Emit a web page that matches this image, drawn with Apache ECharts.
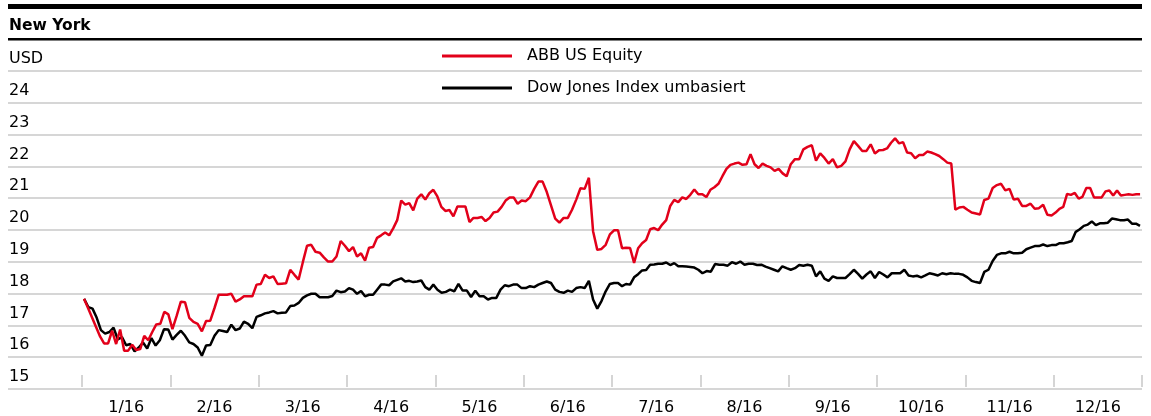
<!DOCTYPE html>
<html>
<head>
<meta charset="utf-8">
<script src="https://cdn.jsdelivr.net/npm/echarts@6.0.0/dist/echarts.min.js"></script>
<style>
  html, body { margin: 0; padding: 0; background: #fff; }
  #chart { width: 1151px; height: 416px; }
</style>
</head>
<body>
<div id="chart"></div>
<script>
// month labels and y range
var monthLabels = ['1/16', '2/16', '3/16', '4/16', '5/16', '6/16', '7/16', '8/16', '9/16', '10/16', '11/16', '12/16'];
var yMin = 15, yMax = 25;

// ABB US Equity, daily closes grouped by month (USD)
var abbJanJun = [
  [17.79, 17.5, 17.2, 16.9, 16.6, 16.38, 16.38, 16.78, 16.36, 16.82, 16.15, 16.15, 16.34, 16.17, 16.2, 16.62, 16.48, 16.74, 16.98, 17.0, 17.38, 17.3],
  [16.83, 17.25, 17.7, 17.68, 17.19, 17.06, 17.0, 16.76, 17.09, 17.1, 17.5, 17.92, 17.92, 17.92, 17.95, 17.7, 17.77, 17.87, 17.87, 17.87, 18.24],
  [18.26, 18.55, 18.45, 18.5, 18.26, 18.27, 18.28, 18.71, 18.55, 18.4, 18.95, 19.47, 19.5, 19.28, 19.25, 19.1, 18.97, 18.97, 19.13, 19.62, 19.47],
  [19.3, 19.43, 19.13, 19.23, 19.0, 19.41, 19.43, 19.72, 19.8, 19.89, 19.8, 20.02, 20.28, 20.9, 20.77, 20.82, 20.59, 20.96, 21.1, 20.93, 21.13, 21.24],
  [21.03, 20.7, 20.57, 20.6, 20.4, 20.71, 20.71, 20.71, 20.22, 20.35, 20.35, 20.38, 20.25, 20.35, 20.52, 20.55, 20.7, 20.9, 21.0, 21.0, 20.8, 20.9],
  [20.88, 21.0, 21.27, 21.5, 21.5, 21.17, 20.75, 20.33, 20.2, 20.35, 20.35, 20.61, 20.93, 21.29, 21.27, 21.62, 19.93, 19.34, 19.37, 19.5, 19.83]
];
var abbJulDec = [
  [19.96, 19.96, 19.39, 19.41, 19.4, 18.93, 19.39, 19.55, 19.65, 19.99, 20.03, 19.96, 20.14, 20.28, 20.73, 20.92, 20.85, 21.0, 20.95, 21.08, 21.25, 21.1],
  [21.1, 21.01, 21.24, 21.32, 21.43, 21.67, 21.9, 22.03, 22.07, 22.1, 22.03, 22.05, 22.37, 22.05, 21.93, 22.07, 22.0, 21.95, 21.84, 21.9, 21.76, 21.67],
  [22.05, 22.21, 22.21, 22.52, 22.6, 22.65, 22.16, 22.39, 22.25, 22.07, 22.21, 21.95, 22.0, 22.14, 22.52, 22.78, 22.63, 22.47, 22.47, 22.68, 22.39],
  [22.49, 22.5, 22.55, 22.73, 22.87, 22.71, 22.75, 22.42, 22.4, 22.24, 22.34, 22.34, 22.45, 22.42, 22.37, 22.31, 22.21, 22.1, 22.07, 20.61, 20.68, 20.7],
  [20.61, 20.52, 20.49, 20.46, 20.92, 20.96, 21.3, 21.39, 21.43, 21.22, 21.27, 20.93, 20.96, 20.73, 20.73, 20.8, 20.64, 20.66, 20.77, 20.45, 20.43],
  [20.52, 20.64, 20.7, 21.11, 21.08, 21.14, 20.96, 21.02, 21.3, 21.3, 21.0, 21.0, 21.0, 21.19, 21.22, 21.06, 21.22, 21.06, 21.08, 21.1, 21.08, 21.1, 21.1]
];

// Dow Jones Index, rebased to ABB's start value
var dowJanJun = [
  [17.79, 17.53, 17.48, 17.19, 16.8, 16.69, 16.74, 16.88, 16.51, 16.58, 16.32, 16.36, 16.13, 16.25, 16.41, 16.22, 16.55, 16.31, 16.48, 16.83, 16.82],
  [16.5, 16.65, 16.78, 16.62, 16.41, 16.36, 16.25, 15.99, 16.31, 16.33, 16.62, 16.8, 16.77, 16.74, 16.97, 16.8, 16.85, 17.07, 17.0, 16.86, 17.22],
  [17.27, 17.33, 17.36, 17.4, 17.33, 17.35, 17.36, 17.56, 17.58, 17.66, 17.82, 17.9, 17.95, 17.95, 17.84, 17.84, 17.84, 17.88, 18.05, 18.0, 18.02],
  [18.13, 18.08, 17.95, 18.04, 17.87, 17.92, 17.92, 18.08, 18.24, 18.24, 18.22, 18.34, 18.39, 18.44, 18.34, 18.36, 18.32, 18.34, 18.37, 18.16, 18.08, 18.24],
  [18.08, 17.98, 18.01, 18.08, 18.03, 18.26, 18.05, 18.05, 17.85, 18.05, 17.87, 17.87, 17.77, 17.82, 17.82, 18.08, 18.22, 18.19, 18.24, 18.24, 18.13],
  [18.13, 18.19, 18.16, 18.24, 18.29, 18.34, 18.29, 18.08, 18.01, 17.98, 18.05, 18.01, 18.13, 18.16, 18.13, 18.36, 17.77, 17.48, 17.72, 18.03, 18.26]
];
var dowJulDec = [
  [18.29, 18.29, 18.19, 18.26, 18.24, 18.47, 18.57, 18.69, 18.7, 18.87, 18.88, 18.9, 18.9, 18.94, 18.86, 18.92, 18.82, 18.82, 18.81, 18.8, 18.78, 18.71],
  [18.6, 18.67, 18.65, 18.89, 18.87, 18.87, 18.84, 18.95, 18.9, 18.97, 18.87, 18.9, 18.9, 18.86, 18.87, 18.81, 18.76, 18.71, 18.66, 18.82, 18.76],
  [18.71, 18.76, 18.86, 18.84, 18.87, 18.84, 18.5, 18.66, 18.43, 18.36, 18.5, 18.45, 18.45, 18.45, 18.57, 18.71, 18.58, 18.43, 18.56, 18.66, 18.45],
  [18.64, 18.56, 18.47, 18.6, 18.6, 18.6, 18.71, 18.53, 18.5, 18.52, 18.47, 18.53, 18.6, 18.57, 18.53, 18.6, 18.57, 18.6, 18.58, 18.58, 18.55],
  [18.47, 18.36, 18.32, 18.29, 18.64, 18.71, 18.99, 19.18, 19.23, 19.23, 19.28, 19.23, 19.23, 19.25, 19.36, 19.41, 19.46, 19.46, 19.51, 19.46, 19.49],
  [19.49, 19.55, 19.55, 19.58, 19.62, 19.91, 19.99, 20.1, 20.14, 20.24, 20.12, 20.18, 20.18, 20.2, 20.33, 20.31, 20.28, 20.28, 20.3, 20.17, 20.17, 20.1]
];

// spread each month's trading days evenly over that month
function toPoints(months) {
  var pts = [];
  months.forEach(function (vals, m) {
    vals.forEach(function (v, k) {
      pts.push([m + (k + 0.5) / vals.length, v]);
    });
  });
  return pts;
}

var abbPoints = toPoints(abbJanJun.concat(abbJulDec));
var dowPoints = toPoints(dowJanJun.concat(dowJulDec));

var font = '"DejaVu Sans", "Noto Sans", sans-serif';
var red = '#e2001a';
var gray = '#c8c8c8';

var myChart = echarts.init(document.getElementById('chart'), null, {renderer: 'canvas'});

var option = {
  animation: false,
  backgroundColor: '#fff',
  textStyle: {fontFamily: font},
  grid: [
    {left: 8, right: 9, top: 71, bottom: 27},
    {left: 82, right: 9, top: 71, bottom: 27}
  ],
  legend: {
    orient: 'vertical',
    left: 442,
    top: 46,
    padding: 0,
    icon: 'rect',
    itemWidth: 70,
    itemHeight: 3,
    itemGap: 12,
    selectedMode: false,
    textStyle: {fontFamily: font, fontSize: 16, color: '#000', lineHeight: 20, padding: [0, 0, 0, 10]},
    data: ['ABB US Equity', 'Dow Jones Index umbasiert']
  },
  xAxis: [
    {
      type: 'category',
      gridIndex: 1,
      data: monthLabels,
      boundaryGap: true,
      axisLine: {show: false},
      axisTick: {show: true, inside: true, length: 12, lineStyle: {color: gray, width: 1.5}},
      axisLabel: {fontFamily: font, fontSize: 16, color: '#000', margin: 13}
    },
    {
      type: 'value',
      gridIndex: 1,
      min: 0,
      max: 12,
      show: false
    },
    {
      type: 'value',
      gridIndex: 0,
      min: 0,
      max: 1,
      show: false
    }
  ],
  yAxis: [
    {
      type: 'value',
      gridIndex: 0,
      min: yMin,
      max: yMax,
      interval: 1,
      axisLine: {show: false},
      axisTick: {show: false},
      splitLine: {show: true, lineStyle: {color: gray, width: 1.5}},
      axisLabel: {
        inside: true,
        margin: 1,
        verticalAlign: 'bottom',
        padding: [0, 0, 4, 0],
        fontFamily: font,
        fontSize: 16,
        color: '#000',
        formatter: function (v) {
          return v === yMax ? 'USD' : String(v);
        }
      }
    },
    {
      type: 'value',
      gridIndex: 1,
      min: yMin,
      max: yMax,
      interval: 1,
      show: false
    }
  ],
  graphic: [
    {type: 'rect', left: 8, top: 4, shape: {width: 1134, height: 5}, style: {fill: '#000'}},
    {type: 'text', left: 9, top: 18, style: {text: 'New York', font: 'bold 15.5px ' + font, fill: '#000'}},
    {type: 'rect', left: 8, top: 38, shape: {width: 1134, height: 2.5}, style: {fill: '#000'}}
  ],
  series: [
    {
      name: 'ABB US Equity',
      type: 'line',
      xAxisIndex: 1,
      yAxisIndex: 1,
      data: abbPoints,
      showSymbol: false,
      color: red,
      lineStyle: {color: red, width: 2.5},
      z: 3
    },
    {
      name: 'Dow Jones Index umbasiert',
      type: 'line',
      xAxisIndex: 1,
      yAxisIndex: 1,
      data: dowPoints,
      showSymbol: false,
      color: '#000',
      lineStyle: {color: '#000', width: 2.5},
      z: 2
    }
  ]
};

myChart.setOption(option);
</script>
</body>
</html>
